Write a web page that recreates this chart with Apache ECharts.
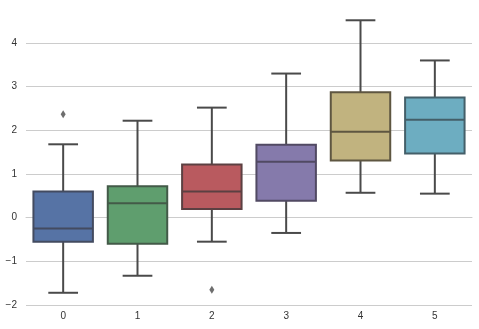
<!DOCTYPE html>
<html><head><meta charset="utf-8">
<script src="https://cdn.jsdelivr.net/npm/echarts@6/dist/echarts.min.js"></script>
<style>html,body{margin:0;padding:0;background:#fff}#c{width:479px;height:329px}</style>
</head><body><div id="c"></div>
<script>
var categories = ['0','1','2','3','4','5'];
var mins    = [-1.72, -1.33, -0.55, -0.35, 0.57, 0.55];
var q1s     = [-0.55, -0.60, 0.20, 0.39, 1.31, 1.47];
var medians = [-0.25, 0.33, 0.60, 1.28, 1.97, 2.24];
var q3s     = [0.60, 0.72, 1.22, 1.67, 2.87, 2.75];
var maxs    = [1.68, 2.22, 2.52, 3.30, 4.52, 3.60];
var outliers = [[0, 2.37], [2, -1.65]];
var colors = ['#5673a5', '#5f9e6e', '#b95a5f', '#857aab', '#c1b37f', '#6dadc1'];
var edges  = ['#434b60', '#435a48', '#5c4042', '#514a63', '#5e5641', '#445f69'];

var boxData = categories.map(function (c, i) {
  return [i, mins[i], q1s[i], medians[i], q3s[i], maxs[i]];
});
var lineColor = '#4a4a4a';

var chart = echarts.init(document.getElementById('c'), null, {renderer: 'canvas'});
chart.setOption({
  animation: false,
  backgroundColor: '#fff',
  grid: {left: 26, right: 7, top: 1.5, bottom: 24},
  xAxis: {
    type: 'category', data: categories, offset: 2,
    axisLine: {show: true, lineStyle: {color: '#cccccc', width: 1}},
    axisTick: {show: false},
    axisLabel: {color: '#333', fontSize: 10, fontFamily: 'Liberation Sans, Arial', margin: 4},
    splitLine: {show: false}
  },
  yAxis: {
    type: 'value', min: -2, max: 4.95, interval: 1,
    axisLine: {show: false}, axisTick: {show: false},
    axisLabel: {color: '#333', fontSize: 10, fontFamily: 'Liberation Sans, Arial', margin: 9,
      showMaxLabel: false,
      formatter: function (v) { return String(v).replace('-', '\u2212'); }},
    splitLine: {show: true, showMaxLine: false, lineStyle: {color: '#cccccc', width: 1}}
  },
  series: [{
    type: 'custom',
    data: boxData,
    renderItem: function (params, api) {
      var i = api.value(0);
      var band = api.size([1, 0])[0];
      var bw = band * 0.8, half = bw / 2, cap = bw / 4;
      var pMin = api.coord([i, api.value(1)]);
      var pQ1 = api.coord([i, api.value(2)]);
      var pMed = api.coord([i, api.value(3)]);
      var pQ3 = api.coord([i, api.value(4)]);
      var pMax = api.coord([i, api.value(5)]);
      var x = pMed[0];
      var ls = {stroke: lineColor, lineWidth: 2};
      var es = {stroke: edges[i], lineWidth: 2};
      return {type: 'group', children: [
        {type: 'line', shape: {x1: x, y1: pQ3[1], x2: x, y2: pMax[1]}, style: ls},
        {type: 'line', shape: {x1: x, y1: pQ1[1], x2: x, y2: pMin[1]}, style: ls},
        {type: 'line', shape: {x1: x - cap, y1: pMax[1], x2: x + cap, y2: pMax[1]}, style: ls},
        {type: 'line', shape: {x1: x - cap, y1: pMin[1], x2: x + cap, y2: pMin[1]}, style: ls},
        {type: 'rect', shape: {x: x - half, y: pQ3[1], width: bw, height: pQ1[1] - pQ3[1]},
          style: {fill: colors[i], stroke: edges[i], lineWidth: 2}},
        {type: 'line', shape: {x1: x - half, y1: pMed[1], x2: x + half, y2: pMed[1]}, style: es}
      ]};
    }
  }, {
    type: 'scatter',
    data: outliers,
    symbol: 'diamond',
    symbolSize: [5, 8],
    itemStyle: {color: lineColor}
  }]
});
</script></body></html>
